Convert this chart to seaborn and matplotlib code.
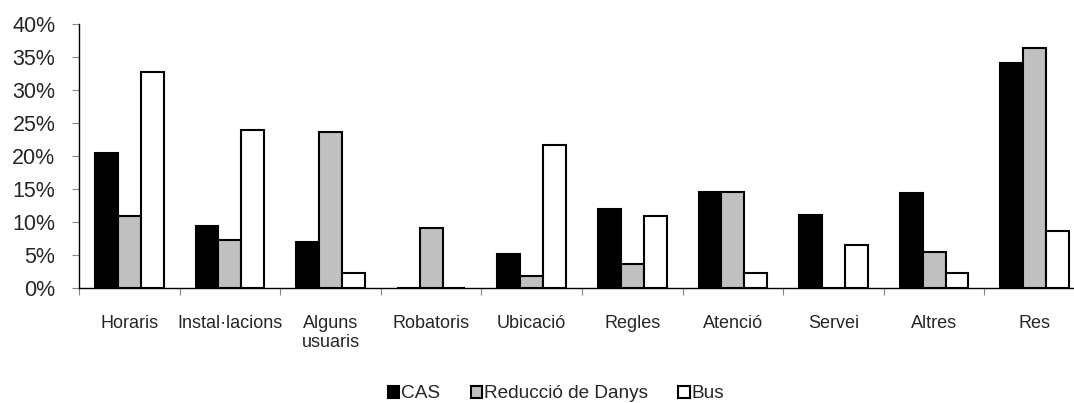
import numpy as np
import pandas as pd
import seaborn as sns
import matplotlib.pyplot as plt
from matplotlib.ticker import PercentFormatter

categories = ["Horaris", "Instal·lacions", "Alguns\nusuaris", "Robatoris", "Ubicació",
              "Regles", "Atenció", "Servei", "Altres", "Res"]
series_names = ["CAS", "Reducció de Danys", "Bus"]
cas = [20.4, 9.4, 6.9, 0.0, 5.2, 12.0, 14.5, 11.1, 14.4, 34.1]
reduccio = [10.9, 7.3, 23.6, 9.1, 1.8, 3.6, 14.6, 0.0, 5.4, 36.4]
bus = [32.7, 23.9, 2.2, 0.0, 21.7, 10.9, 2.2, 6.5, 2.2, 8.7]
y_ticks = [0, 5, 10, 15, 20, 25, 30, 35, 40]

df = pd.DataFrame({
    "categoria": categories * 3,
    "serie": [s for s in series_names for _ in categories],
    "valor": cas + reduccio + bus,
})

sns.set_style("white")
plt.rcParams["font.family"] = ["Liberation Sans", "DejaVu Sans"]

fig = plt.figure(figsize=(10.74, 4.03), dpi=100)
ax = fig.add_axes([79 / 1074, 115 / 403, 1006 / 1074, 264 / 403])

sns.barplot(data=df, x="categoria", y="valor", hue="serie", order=categories,
            hue_order=series_names, palette=["black", "#C0C0C0", "white"],
            edgecolor="black", linewidth=1.5, width=0.68, saturation=1,
            ax=ax, legend=True)

ax.set_ylim(0, 40)
ax.set_xlim(-0.5, 9.5)
ax.set_yticks(y_ticks)
ax.yaxis.set_major_formatter(PercentFormatter(decimals=0))
ax.set_xlabel("")
ax.set_ylabel("")

for side in ["top", "right"]:
    ax.spines[side].set_visible(False)
for side in ["left", "bottom"]:
    ax.spines[side].set_color("black")
    ax.spines[side].set_linewidth(1.0)

ax.tick_params(axis="y", which="major", left=True, length=5, width=0.8,
               color="#888888", labelsize=15.5, pad=12)
ax.tick_params(axis="x", which="major", bottom=False, labelsize=13, pad=16)
ax.set_xticks(np.arange(-0.5, 10, 1), minor=True)
ax.tick_params(axis="x", which="minor", bottom=True, length=5, width=0.8,
               color="#888888")
for lbl in ax.get_xticklabels():
    lbl.set_linespacing(1.15)
    lbl.set_verticalalignment("top")

handles, labels = ax.get_legend_handles_labels()
ax.legend_.remove()
fig.legend(handles, labels, loc="center", bbox_to_anchor=(556 / 1074, 1 - 394 / 403),
           ncol=3, frameon=False, fontsize=13.7, handlelength=0.6, handleheight=0.6,
           handletextpad=0.1, columnspacing=1.6, borderaxespad=0)

fig.savefig("out.png", dpi=100)
